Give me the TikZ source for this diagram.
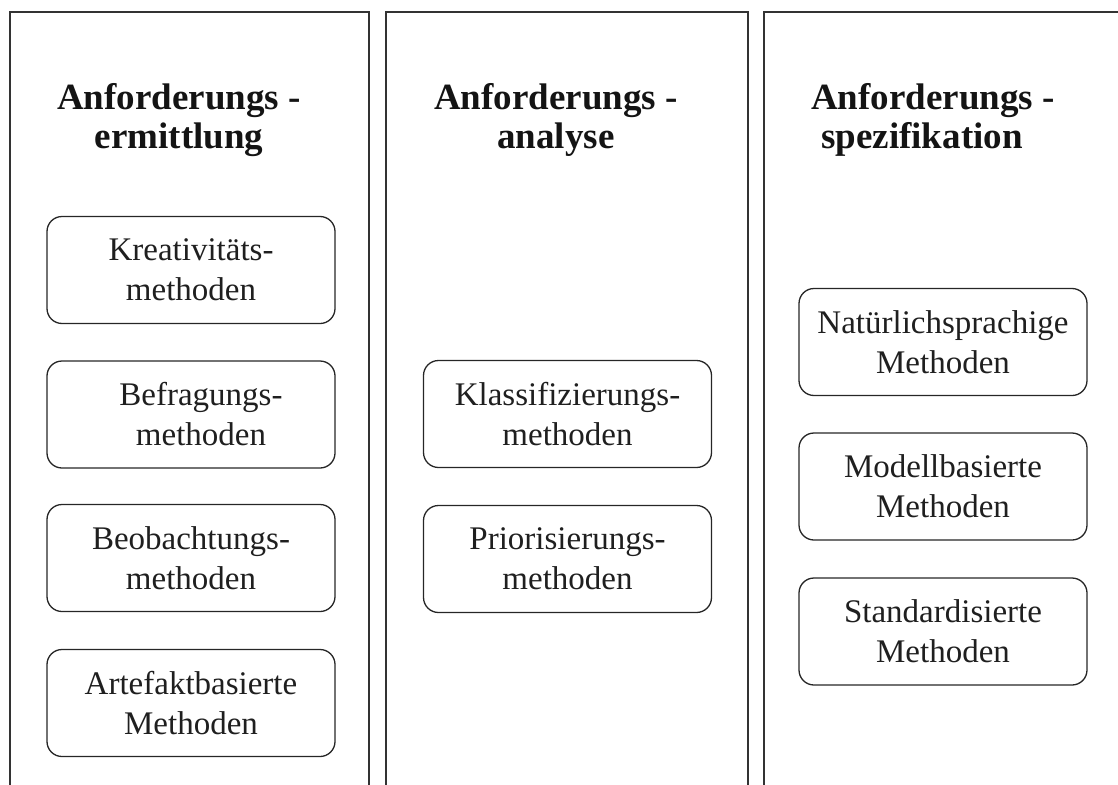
\documentclass[tikz,border=0pt]{standalone}
\usepackage{fontspec}
\setmainfont{Liberation Serif}
\begin{document}
\begin{tikzpicture}[x=1pt,y=-1pt,
  lane/.style={draw=black!80, line width=1.4pt},
  method/.style={draw=black!85, line width=1.3pt, rounded corners=15pt,
    minimum width=288pt, minimum height=107pt, inner sep=0pt,
    align=center, text=black!88, font=\fontsize{33}{40}\selectfont},
  heading/.style={align=center, inner sep=0pt, text=black!92,
    font=\bfseries\fontsize{37}{39}\selectfont}]
\useasboundingbox (0,0) rectangle (1118,784);
\begin{scope}
  \clip (0,0) rectangle (1118,784);
  % three open-bottomed lanes
  \draw[lane] (10,800) |- (369,12) -- (369,800);
  \draw[lane] (386,800) |- (748,12) -- (748,800);
  \draw[lane] (764,800) |- (1130,12) -- (1130,800);
\end{scope}

% lane headings
\node[heading] (h1) at (179,120) {Anforderungs -\\ermittlung};
\node[heading] (h2) at (556,120) {Anforderungs -\\analyse};
\node[heading] (h3) at (933,120) {Anforderungs -\\\hspace*{-22pt}spezifikation};

% elicitation methods
\node[method] (m11) at (191,270) {Kreativitäts-\\methoden};
\node[method] (m12) at (191,414.5) {\hspace*{20pt}Befragungs-\\\hspace*{20pt}methoden};
\node[method] (m13) at (191,558) {Beobachtungs-\\methoden};
\node[method] (m14) at (191,703) {Artefaktbasierte\\Methoden};

% analysis methods
\node[method] (m21) at (567.5,414) {Klassifizierungs-\\methoden};
\node[method] (m22) at (567.5,559) {Priorisierungs-\\methoden};

% specification methods
\node[method] (m31) at (943,342) {Natürlichsprachige\\Methoden};
\node[method] (m32) at (943,486.5) {Modellbasierte\\Methoden};
\node[method] (m33) at (943,631.5) {Standardisierte\\Methoden};
\end{tikzpicture}
\end{document}
